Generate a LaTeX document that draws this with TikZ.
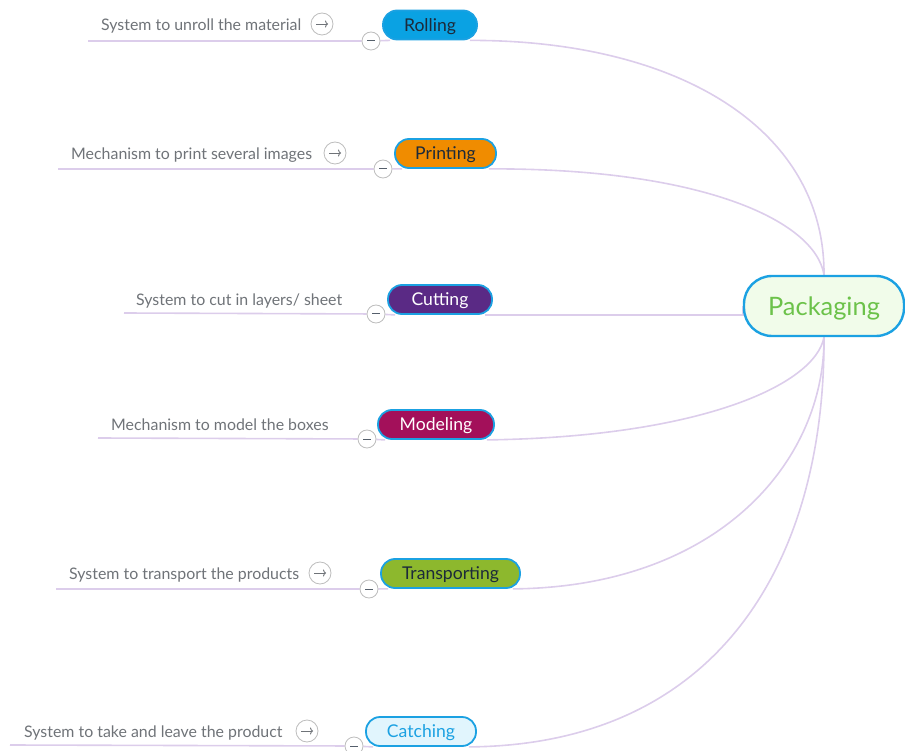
\documentclass[tikz,border=0pt]{standalone}
\usepackage{fontspec}
\setmainfont{Lato}
\usetikzlibrary{backgrounds,arrows.meta}
\definecolor{xblue}{HTML}{1BA1E2}
\definecolor{branch}{HTML}{DCCDEB}
\definecolor{subtext}{HTML}{6F7378}
\definecolor{knob}{HTML}{BDBDBD}
\definecolor{rollfill}{HTML}{0AA2E3}
\definecolor{printfill}{HTML}{F08C00}
\definecolor{cutfill}{HTML}{5A2A85}
\definecolor{modelfill}{HTML}{A3105A}
\definecolor{transfill}{HTML}{8DB82D}
\definecolor{catchfill}{HTML}{E1F5FD}
\definecolor{packfill}{HTML}{F1FCEA}
\definecolor{packtext}{HTML}{6CC24A}
\definecolor{darktext}{HTML}{1C2A3A}
\tikzset{
  topic/.style={draw=xblue, line width=1.8pt, rounded corners=14pt,
    minimum height=29, inner sep=0pt, text height=12.6pt, text depth=0pt,
    font=\fontsize{17.6}{20}\selectfont},
  central/.style={draw=xblue, line width=2.4pt, rounded corners=28pt,
    fill=packfill, text=packtext, minimum width=160, minimum height=60,
    inner sep=0pt, text height=18.2pt, text depth=0pt,
    font=\fontsize{25.4}{30}\selectfont},
  subitem/.style={anchor=west, inner sep=0pt, text=subtext,
    text height=11.4pt, text depth=0pt, yshift=-1.2pt,
    font=\fontsize{15.9}{18}\selectfont},
  conn/.style={draw=branch, line width=1.6pt},
  minusknob/.style={circle, draw=knob, fill=white, line width=0.8pt,
    minimum size=18, inner sep=0pt},
  goknob/.style={circle, draw=knob, fill=white, line width=0.8pt,
    minimum size=22, inner sep=0pt},
}
% draw a collapse knob with a short dash
\newcommand\minusmark[2]{%
  \node[minusknob] (#1) at #2 {};
  \draw[line width=1pt, color=darktext!75] ([xshift=-4pt]#1.center) -- ([xshift=4pt]#1.center);}
% draw a drill-down knob with an arrow
\newcommand\gomark[2]{%
  \node[goknob] (#1) at #2 {};
  \draw[line width=0.9pt, color=subtext, -{To[length=3pt,width=7pt]}]
    ([xshift=-6pt]#1.center) -- ([xshift=6pt]#1.center);}
\begin{document}
\begin{tikzpicture}[x=1pt,y=-1pt]
\useasboundingbox (0,0) rectangle (905,751);

% central topic
\node[central] (pack) at (824,306) {Packaging};

% main topics
\node[topic, fill=rollfill, text=darktext, minimum width=94] (roll) at (430,25) {Rolling};
\node[topic, fill=printfill, text=darktext, minimum width=101] (print) at (445.5,153.5) {Printing};
\node[topic, fill=cutfill, text=white, minimum width=104] (cut) at (440,299.5) {Cutting};
\node[topic, fill=modelfill, text=white, minimum width=116] (model) at (436,424.5) {Modeling};
\node[topic, fill=transfill, text=darktext, minimum width=139] (trans) at (450.5,573.5) {Transporting};
\node[topic, fill=catchfill, text=xblue, minimum width=110] (catch) at (421,731.5) {Catching};

% sub topics
\node[subitem] (rolltxt) at (101,24) {System to unroll the material};
\node[subitem] (printtxt) at (71,153) {Mechanism to print several images};
\node[subitem] (cuttxt) at (136,299) {System to cut in layers/ sheet};
\node[subitem] (modeltxt) at (111,424) {Mechanism to model the boxes};
\node[subitem] (transtxt) at (69,573) {System to transport the products};
\node[subitem] (catchtxt) at (24,731) {System to take and leave the product};

% start points of the underlines
\coordinate (rollend) at (88,41);
\coordinate (printend) at (58,169);
\coordinate (cutend) at (124,313);
\coordinate (modelend) at (98,438);
\coordinate (transend) at (56,589);
\coordinate (catchend) at (10,745);

% knobs
\minusmark{rollk}{(371,41)}
\minusmark{printk}{(383,169)}
\minusmark{cutk}{(376,314)}
\minusmark{modelk}{(367,439)}
\minusmark{transk}{(369,589)}
\minusmark{catchk}{(354,746)}
\gomark{rollg}{(322,24)}
\gomark{printg}{(335,153)}
\gomark{transg}{(320,573)}
\gomark{catchg}{(307,731)}

\begin{scope}[on background layer]
  % branches from the central topic
  \draw[conn] ([xshift=-8pt]roll.south east) .. controls (680,40) and (825,130) .. (pack.north);
  \draw[conn] ([xshift=-8pt]print.south east) .. controls (700,168) and (815,220) .. (pack.north);
  \draw[conn] ([xshift=-8pt]cut.south east) -- (pack.west |- cut.south east) -- (pack.west);
  \draw[conn] ([xshift=-8pt]model.south east) .. controls (700,437) and (815,385) .. (pack.south);
  \draw[conn] ([xshift=-8pt]trans.south east) .. controls (720,587) and (825,460) .. (pack.south);
  \draw[conn] ([xshift=-8pt]catch.south east) .. controls (720,745) and (825,560) .. (pack.south);
  % underlines of the sub topics
  \draw[conn] (rollend) -- (rollk) -- ([xshift=8pt]roll.south west);
  \draw[conn] (printend) -- (printk) -- ([xshift=8pt]print.south west);
  \draw[conn] (cutend) -- (cutk) -- ([xshift=8pt]cut.south west);
  \draw[conn] (modelend) -- (modelk) -- ([xshift=8pt]model.south west);
  \draw[conn] (transend) -- (transk) -- ([xshift=8pt]trans.south west);
  \draw[conn] (catchend) -- (catchk) -- ([xshift=8pt]catch.south west);
\end{scope}
\end{tikzpicture}
\end{document}
